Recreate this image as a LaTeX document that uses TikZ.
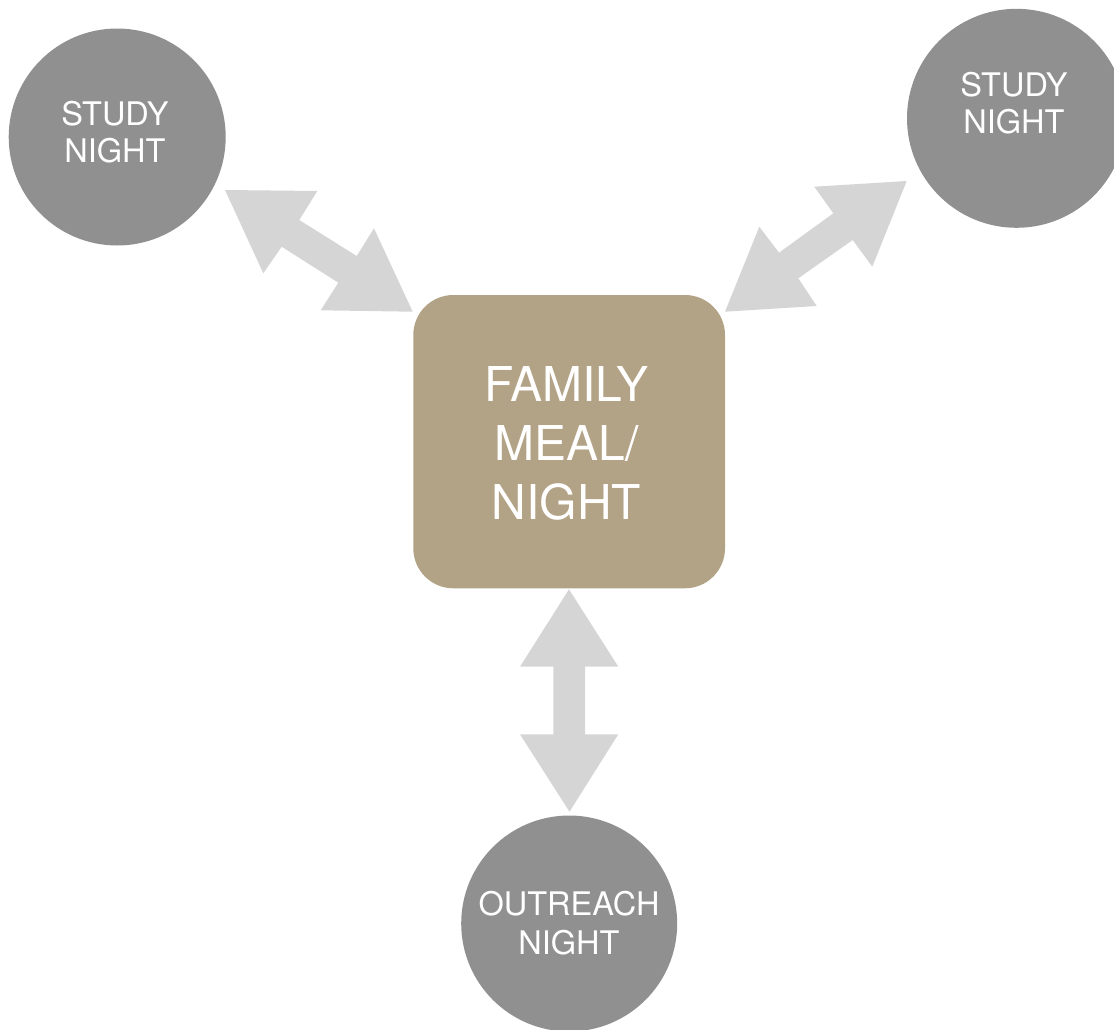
\documentclass[tikz,border=0pt]{standalone}
\usepackage{fontspec}
\setmainfont{TeX Gyre Heros}
\definecolor{cgray}{HTML}{909090}
\definecolor{cbox}{HTML}{B3A386}
\definecolor{carrow}{HTML}{D5D5D5}
\tikzset{
  bubble/.style={circle, fill=cgray, draw=none, inner sep=0pt, minimum size=#1},
  small/.style={text=white, anchor=base, inner sep=0pt, font=\fontsize{32.5}{37.7}\selectfont},
  big/.style={text=white, anchor=base, inner sep=0pt, font=\fontsize{48}{59}\selectfont},
  blockarrow/.style={fill=carrow, draw=none}
}
\begin{document}
\begin{tikzpicture}[x=1pt,y=-1pt]
\useasboundingbox (0,0) rectangle (1114,1029);
\clip (0,0) rectangle (1114,1029);
% arrows
\fill[blockarrow] (225,190) -- (317.3,191) -- (299.3,220) -- (356.7,256) -- (374,228.3) -- (412.7,311.7) -- (320.7,310.3) -- (338.3,282.7) -- (281.7,246.7) -- (263.3,273.3) -- cycle;
\fill[blockarrow] (906.7,181) -- (872.3,266.7) -- (852.7,240) -- (798.3,278.3) -- (816.7,306) -- (725,311.7) -- (759.3,226.7) -- (779,252.7) -- (833.3,213.3) -- (814.3,186.7) -- cycle;
\fill[blockarrow] (569,589.3) -- (618.3,666.7) -- (585,666.7) -- (585,734.3) -- (618.3,734.3) -- (569.5,811.7) -- (520,734.3) -- (553.3,734.3) -- (553.3,666.7) -- (520,666.7) -- cycle;
% central box
\fill[cbox, rounded corners=40pt] (413.3,295) rectangle (725,588.3);
\coordinate (boxc) at (569,441.6);
\node[big] (f1) at (566.5,401.7) {FAMILY};
\node[big] (f2) at (566.5,460) {MEAL/};
\node[big] (f3) at (566.5,519.3) {NIGHT};
% circles
\node[bubble=217pt] (tl) at (117.2,137) {};
\node[bubble=219pt] (tr) at (1016.5,118.3) {};
\node[bubble=216pt] (bt) at (569.2,923.5) {};
\node[small] (tl1) at (115,125) {STUDY};
\node[small] (tl2) at (115,162.7) {NIGHT};
\node[small] (tr1) at (1014,96.7) {STUDY};
\node[small] (tr2) at (1014,133.3) {NIGHT};
\node[small] (bt1) at (569,915) {OUTREACH};
\node[small] (bt2) at (569,954) {NIGHT};
\end{tikzpicture}
\end{document}
